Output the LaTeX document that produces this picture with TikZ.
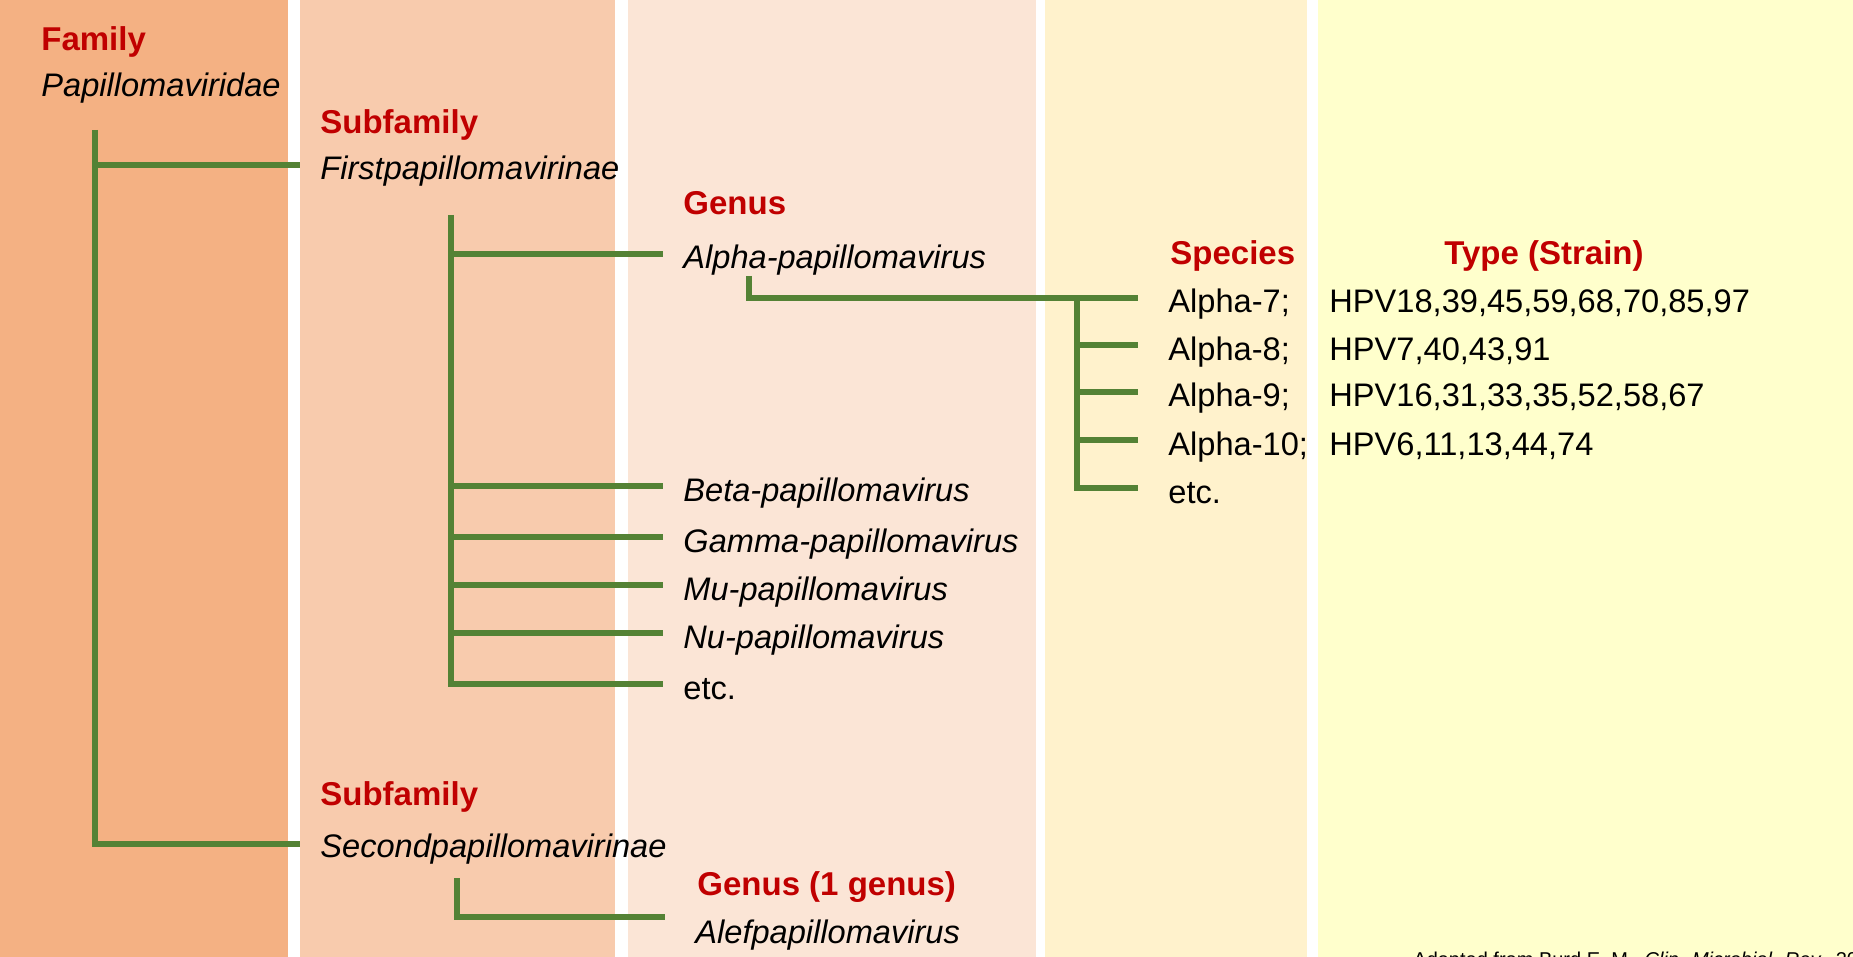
\documentclass[tikz,border=0pt]{standalone}
\usepackage{fontspec}
\setmainfont{Liberation Sans}
\usepackage{xcolor}
\usetikzlibrary{positioning}

\definecolor{bandA}{HTML}{F4B183}
\definecolor{bandB}{HTML}{F8CBAD}
\definecolor{bandC}{HTML}{FBE5D6}
\definecolor{bandD}{HTML}{FFF2CC}
\definecolor{bandE}{HTML}{FFFFCC}
\definecolor{treegreen}{HTML}{548235}
\definecolor{rankred}{HTML}{C00000}

\begin{document}
\begin{tikzpicture}[x=0.5pt, y=-0.5pt,
  rank/.style={anchor=base west, inner sep=0pt, text=rankred, font=\fontsize{16.5}{20}\selectfont\bfseries},
  taxon/.style={anchor=base west, inner sep=0pt, font=\fontsize{16.3}{20}\selectfont\itshape},
  plain/.style={anchor=base west, inner sep=0pt, font=\fontsize{16.3}{20}\selectfont},
  branch/.style={draw=treegreen, line width=3.2pt}]
% taxonomy chart — coordinates in pixels of the 1853 x 957 slide, y pointing down
\fill[white] (0,0) rectangle (1853,957);
\useasboundingbox (0,0) rectangle (1853,957);
\clip (0,0) rectangle (1853,957);

% 1. Rank bands, one per column
\foreach \xa/\xb/\col in {0/288/bandA, 300/615/bandB, 628/1036/bandC, 1045/1307/bandD, 1318/1853/bandE}
  \fill[\col] (\xa,0) rectangle (\xb,957);

% 2. Family and subfamilies
\node[rank]  (family)  at (41,51)   {Family};
\node[taxon] (papvir)  at (41,97)   {Papillomaviridae};
\node[rank]  (subfamA) at (320,134) {Subfamily};
\node[taxon] (first)   at (320,180) {Firstpapillomavirinae};
\node[rank]  (subfamB) at (320,805) {Subfamily};
\node[taxon] (second)  at (320,857) {Secondpapillomavirinae};

% 3. Genera
\node[rank]  (genusA) at (683,215) {Genus};
\node[taxon] (alpha)  at (683,269) {Alpha-papillomavirus};
\node[taxon] (beta)   at (683,501) {Beta-papillomavirus};
\node[taxon] (gamma)  at (683,552) {Gamma-papillomavirus};
\node[taxon] (mu)     at (683,600) {Mu-papillomavirus};
\node[taxon] (nu)     at (683,648) {Nu-papillomavirus};
\node[plain] (getc)   at (683,699) {etc.};
\node[rank]  (genusB) at (697,895) {Genus (1 genus)};
\node[taxon] (alef)   at (695,943) {Alefpapillomavirus};

% 4. Species and types
\node[rank]  (species) at (1170,265) {Species};
\node[rank]  (types)   at (1444,265) {Type (Strain)};
\node[plain] (sp7)   at (1168,313) {Alpha-7;};
\node[plain] (sp8)   at (1168,360) {Alpha-8;};
\node[plain] (sp9)   at (1168,407) {Alpha-9;};
\node[plain] (sp10)  at (1168,455) {Alpha-10;};
\node[plain] (spetc) at (1168,503) {etc.};
\node[plain] (hpv7)  at (1329,313) {HPV18,39,45,59,68,70,85,97};
\node[plain] (hpv8)  at (1329,360) {HPV7,40,43,91};
\node[plain] (hpv9)  at (1329,407) {HPV16,31,33,35,52,58,67};
\node[plain] (hpv10) at (1329,455) {HPV6,11,13,44,74};

% 5. Branch tips, just left of each name
\foreach \n/\dx/\dy in {first/-20/-15, second/-20/-13, alpha/-20/-15, beta/-20/-15,
    gamma/-20/-15, mu/-20/-15, nu/-20/-15, getc/-20/-15, sp7/-30/-15, sp8/-30/-15,
    sp9/-30/-15, sp10/-30/-15, spetc/-30/-15, alef/-30/-26}
  \coordinate (\n-tip) at ([shift={(\dx,\dy)}]\n.base west);

\coordinate (famstem) at (95,130);
\coordinate (substem) at (451,215);
\coordinate (alphastem) at (749,276);
\coordinate (spstem) at (1077,0);
\coordinate (secstem) at (457,878);

% 6. Tree lines
\draw[branch] (famstem) |- (second-tip);
\draw[branch] (famstem |- first-tip) -- (first-tip);
\draw[branch] (substem) |- (getc-tip);
\foreach \n in {alpha,beta,gamma,mu,nu}
  \draw[branch] (substem |- \n-tip) -- (\n-tip);
\draw[branch] (alphastem) |- (sp7-tip);
\draw[branch] (spstem |- sp7-tip) |- (spetc-tip);
\foreach \n in {sp8,sp9,sp10}
  \draw[branch] (spstem |- \n-tip) -- (\n-tip);
\draw[branch] (secstem) |- (alef-tip);

% 7. Source, cut by the lower edge
\node[anchor=base west, inner sep=0pt, font=\fontsize{10}{12}\selectfont] (source) at (1413,966)
  {Adapted from Burd E. M., \textit{Clin. Microbiol. Rev.}, 2003};
\end{tikzpicture}
\end{document}
